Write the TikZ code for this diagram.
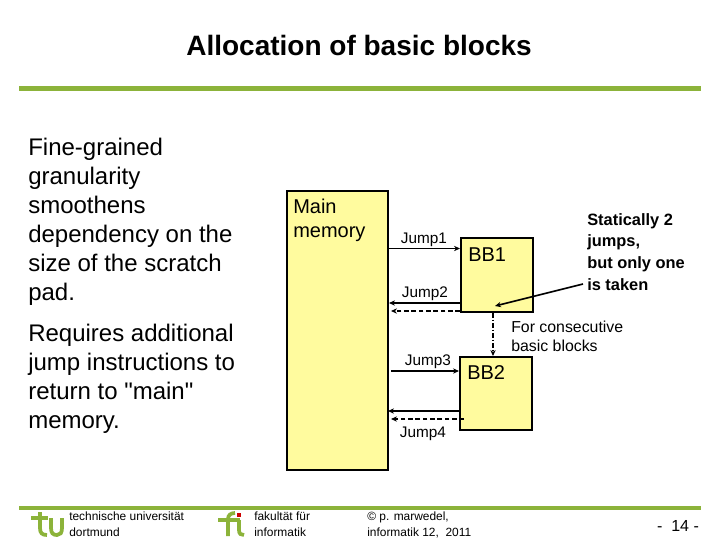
\documentclass[tikz,border=0pt]{standalone}
\usepackage{fontspec}
\setmainfont{Liberation Sans}
\newfontfamily\plainq{Liberation Sans}
\usetikzlibrary{arrows.meta}
\definecolor{barcol}{HTML}{8CB33A}
\definecolor{boxcol}{HTML}{FFFB9E}
\newcommand{\pxfont}[2]{\fontsize{#1}{#2}\selectfont}
\tikzset{
  x=0.75pt,y=-0.75pt,
  bar/.style={fill=barcol,draw=none},
  block/.style={draw=black,fill=boxcol,line width=1.9pt},
  lab/.style={inner sep=0pt,anchor=north west,align=left},
  ctr/.style={inner sep=0pt,align=center},
  body/.style={lab,font=\pxfont{18}{21.7}},
  boxt/.style={lab,anchor=west,font=\pxfont{15}{18}},
  jlab/.style={ctr,font=\pxfont{11.5}{14}},
  foot/.style={lab,font=\pxfont{8.95}{11.6}},
  jump/.style={line width=1.2pt,-{Stealth[length=4.5pt,width=4pt]}},
  jumpd/.style={jump,dash pattern=on 3.5pt off 2pt},
  jumpdd/.style={jump,dash pattern=on 3.5pt off 1.5pt on 1pt off 1.5pt},
  logo/.style={draw=barcol,line width=2.8pt}
}
\begin{document}
\begin{tikzpicture}
\useasboundingbox (0,0) rectangle (720,540);
\fill[white] (0,0) rectangle (720,540);
\fill[bar] (19,86) rectangle (701,91);
\fill[bar] (19,506) rectangle (701,510);
\node[ctr,font=\pxfont{21}{24}] (title) at (359,45.5) {\textbf{Allocation of basic blocks}};
\node[body] (t1) at (28,138) {Fine-grained\\granularity\\smoothens\\dependency on the\\size of the scratch\\pad.};
\node[body] (t2) at (28,324) {Requires additional\\jump instructions to\\return to {\plainq "}main{\plainq "}\\memory.};
\path[block] (287,191) rectangle (388,470);
\node[lab,font=\pxfont{15}{18}] (mmt) at (293,199) {Main\\memory};
\path[block] (461,238) rectangle (533,312);
\path[block] (460,357) rectangle (532,430);
\node[boxt] (bb1t) at (468,255) {BB1};
\node[boxt] (bb2t) at (467,373) {BB2};
\coordinate (a1) at (388,248.5); \coordinate (b1) at (460,248.5);
\coordinate (a2) at (460,303); \coordinate (b2) at (389,303);
\coordinate (a3) at (460,311); \coordinate (b3) at (391,311);
\coordinate (a4) at (391,371); \coordinate (b4) at (459,371);
\coordinate (a5) at (460,411); \coordinate (b5) at (388,411);
\coordinate (a6) at (464,419); \coordinate (b6) at (391,419);
\coordinate (a7) at (493,313); \coordinate (b7) at (493,356);
\draw[jump] (a1) -- (b1);
\draw[jump] (a2) -- (b2);
\draw[jumpd] (a3) -- (b3);
\draw[jump] (a4) -- (b4);
\draw[jump] (a5) -- (b5);
\draw[jumpd] (a6) -- (b6);
\draw[jumpdd] (a7) -- (b7);
\node[jlab] (j1) at (424,240) {Jump1};
\node[jlab] (j2) at (425,294) {Jump2};
\node[jlab] (j3) at (428,362) {Jump3};
\node[jlab] (j4) at (423,434) {Jump4};
\node[lab,font=\pxfont{12.3}{16.3}\bfseries] (st) at (587,213) {Statically 2\\jumps,\\but only one\\is taken};
\coordinate (c1) at (583,284); \coordinate (c2) at (495,306);
\draw[jump] (c1) -- (c2);
\node[lab,font=\pxfont{11.9}{14.3}] (fc) at (511,321) {For consecutive\\basic blocks};
% footer
\node[foot] (f1) at (69,512) {technische universität\\dortmund};
\node[foot] (f2) at (254,512) {fakultät für\\informatik};
\node[foot] (f3) at (367,512) {© p. marwedel,\\informatik 12,\ \ 2011};
\node[ctr,font=\pxfont{12}{14}] (pg) at (678,526) {-\ \ 14 -};
% logos
\draw[logo] (31,518) -- (48,518);
\draw[logo] (40,512) -- (40,528) .. controls (40,533) and (42,535) .. (47,535);
\draw[logo] (51,518) -- (51,528) .. controls (51,533) and (53,535) .. (57,535) .. controls (60,535) and (62,533) .. (62,528) -- (62,518);
\draw[logo] (218,520) -- (240,520);
\draw[logo] (228,536) -- (228,519) .. controls (228,515) and (231,513) .. (235,513);
\draw[logo] (239,520) -- (239,530) .. controls (239,534) and (241,535) .. (244,535);
\fill[red!80!black] (237,513) rectangle (241,517);
\end{tikzpicture}
\end{document}
